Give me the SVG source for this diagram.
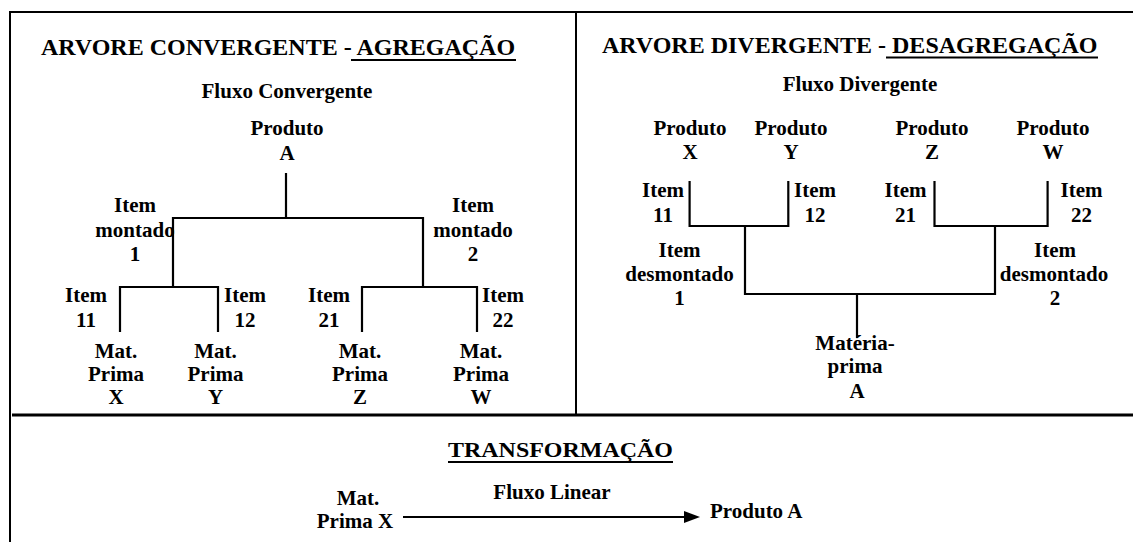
<svg xmlns="http://www.w3.org/2000/svg" width="1133" height="542" viewBox="0 0 1133 542">
<defs>
<style>
text{font-family:"Liberation Serif","Times New Roman",serif;font-weight:bold;fill:#000;font-size:21px}
.c{text-anchor:middle}
.t{font-size:24px}
.frame{stroke:#000;stroke-width:2;fill:none}
.conn{stroke:#000;stroke-width:2.2;fill:none;stroke-linejoin:miter}
.ul{stroke:#000;stroke-width:2}
</style>
<marker id="arr" markerWidth="16" markerHeight="12" refX="0" refY="6" orient="auto" markerUnits="userSpaceOnUse">
<polygon points="0,0 16,6 0,12" fill="#000"/>
</marker>
</defs>
<rect width="1133" height="542" fill="#fff"/>
<g id="frame">
<line class="frame" x1="9" y1="12" x2="1133" y2="12"/>
<line class="frame" x1="10" y1="11" x2="10" y2="542"/>
<line class="frame" x1="576" y1="12" x2="576" y2="415"/>
<line class="frame" x1="12" y1="415" x2="1133" y2="415" style="stroke-width:3"/>
</g>
<g id="title-convergente">
<text class="t" x="41" y="55">ARVORE CONVERGENTE - AGREGAÇÃO</text>
<line class="ul" x1="351" y1="60" x2="516" y2="60"/>
</g>
<g id="label-fluxo-convergente"><text class="c" x="287" y="98">Fluxo Convergente</text></g>
<g id="node-produto-a"><text class="c" x="287" y="135">Produto</text><text class="c" x="287" y="160">A</text></g>
<g id="node-item-montado-1"><text class="c" x="135" y="212">Item</text><text class="c" x="135" y="237">montado</text><text class="c" x="135" y="261">1</text></g>
<g id="node-item-montado-2"><text class="c" x="473" y="212">Item</text><text class="c" x="473" y="237">montado</text><text class="c" x="473" y="261">2</text></g>
<g id="node-c-item-11"><text class="c" x="86" y="302">Item</text><text class="c" x="86" y="327">11</text></g>
<g id="node-c-item-12"><text class="c" x="245" y="302">Item</text><text class="c" x="245" y="327">12</text></g>
<g id="node-c-item-21"><text class="c" x="329" y="302">Item</text><text class="c" x="329" y="327">21</text></g>
<g id="node-c-item-22"><text class="c" x="503" y="302">Item</text><text class="c" x="503" y="327">22</text></g>
<g id="node-mp-x"><text class="c" x="116" y="358">Mat.</text><text class="c" x="116" y="381">Prima</text><text class="c" x="116" y="404">X</text></g>
<g id="node-mp-y"><text class="c" x="215.5" y="358">Mat.</text><text class="c" x="215.5" y="381">Prima</text><text class="c" x="215.5" y="404">Y</text></g>
<g id="node-mp-z"><text class="c" x="360" y="358">Mat.</text><text class="c" x="360" y="381">Prima</text><text class="c" x="360" y="404">Z</text></g>
<g id="node-mp-w"><text class="c" x="481" y="358">Mat.</text><text class="c" x="481" y="381">Prima</text><text class="c" x="481" y="404">W</text></g>

<g id="title-divergente">
<text class="t" x="602" y="53">ARVORE DIVERGENTE - DESAGREGAÇÃO</text>
<line class="ul" x1="886" y1="57.5" x2="1098" y2="57.5"/>
</g>
<g id="label-fluxo-divergente"><text class="c" x="860" y="91">Fluxo Divergente</text></g>
<g id="node-produto-x"><text class="c" x="690" y="135">Produto</text><text class="c" x="690" y="159">X</text></g>
<g id="node-produto-y"><text class="c" x="791" y="135">Produto</text><text class="c" x="791" y="159">Y</text></g>
<g id="node-produto-z"><text class="c" x="932" y="135">Produto</text><text class="c" x="932" y="159">Z</text></g>
<g id="node-produto-w"><text class="c" x="1053" y="135">Produto</text><text class="c" x="1053" y="159">W</text></g>
<g id="node-d-item-11"><text class="c" x="663" y="197">Item</text><text class="c" x="663" y="222">11</text></g>
<g id="node-d-item-12"><text class="c" x="815" y="197">Item</text><text class="c" x="815" y="222">12</text></g>
<g id="node-d-item-21"><text class="c" x="905.5" y="197">Item</text><text class="c" x="905.5" y="222">21</text></g>
<g id="node-d-item-22"><text class="c" x="1081.5" y="197">Item</text><text class="c" x="1081.5" y="222">22</text></g>
<g id="node-item-desmontado-1"><text class="c" x="679.5" y="257">Item</text><text class="c" x="679.5" y="281">desmontado</text><text class="c" x="679.5" y="305">1</text></g>
<g id="node-item-desmontado-2"><text class="c" x="1055" y="257">Item</text><text class="c" x="1054" y="281">desmontado</text><text class="c" x="1055" y="305">2</text></g>
<g id="node-materia-prima-a"><text class="c" x="855" y="350">Matéria-</text><text class="c" x="855" y="373">prima</text><text class="c" x="857" y="398">A</text></g>

<g id="title-transformacao">
<text class="c" x="560.5" y="457" style="font-size:22px" textLength="225" lengthAdjust="spacingAndGlyphs">TRANSFORMAÇÃO</text>
<line class="ul" x1="448" y1="462" x2="673" y2="462"/>
</g>
<g id="node-mat-prima-x"><text class="c" x="358" y="505">Mat.</text><text class="c" x="355" y="528">Prima X</text></g>
<g id="label-fluxo-linear"><text class="c" x="552" y="499">Fluxo Linear</text></g>
<g id="node-produto-a-linear"><text x="710" y="518">Produto A</text></g>

<g id="connectors">
<path class="conn" d="M286,173 V218"/>
<path class="conn" d="M173,287 V218 H423 V287"/>
<path class="conn" d="M120,332 V287 H218 V332"/>
<path class="conn" d="M362,332 V287 H477 V332"/>
<path class="conn" d="M689.6,181 V226 H788.3 V181"/>
<path class="conn" d="M934.5,181 V226 H1047.6 V181"/>
<path class="conn" d="M745,226 V294 H995 V226"/>
<path class="conn" d="M857,294 V338"/>
<path class="conn" d="M403,517 H684" marker-end="url(#arr)"/>
</g>
</svg>
